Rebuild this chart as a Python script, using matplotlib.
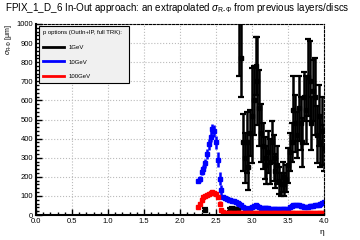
import numpy as np
import matplotlib
matplotlib.use('Agg')
import matplotlib.pyplot as plt
from matplotlib.ticker import MultipleLocator

plt.rcParams['font.family'] = 'Liberation Sans'
plt.rcParams['mathtext.fontset'] = 'custom'
plt.rcParams['mathtext.rm'] = 'Liberation Sans'
plt.rcParams['mathtext.it'] = 'Liberation Sans:italic'

# 1 GeV: eta, sigma, error
eta_1gev = [2.35, 2.70, 2.725, 2.75, 2.775, 2.80,
            2.825, 2.850, 2.875, 2.900, 2.925, 2.950, 2.975, 3.000,
            3.025, 3.050, 3.075, 3.100, 3.125, 3.150, 3.175, 3.200,
            3.225, 3.250, 3.275, 3.300, 3.325, 3.350, 3.375, 3.400,
            3.425, 3.450, 3.475, 3.500, 3.525, 3.550, 3.575, 3.600,
            3.625, 3.650, 3.675, 3.700, 3.725, 3.750, 3.775, 3.800,
            3.825, 3.850, 3.875, 3.900, 3.925, 3.950, 3.975, 4.000]
sig_1gev = [28, 30, 32, 30, 30, 28,
            1060, 820, 380, 300, 380, 250, 430, 520,
            600, 780, 700, 560, 430, 360, 300, 260,
            330, 280, 380, 300, 230, 260, 180, 160,
            200, 160, 190, 260, 330, 380, 550, 480,
            420, 560, 480, 380, 620, 550, 720, 700,
            480, 650, 620, 420, 520, 380, 440, 350]
err_1gev = [8, 8, 8, 8, 8, 8,
            330, 200, 150, 130, 160, 120, 120, 250,
            180, 150, 230, 200, 150, 120, 110, 100,
            110, 120, 110, 120, 90, 100, 70, 60,
            80, 60, 70, 90, 100, 100, 180, 150,
            120, 170, 140, 130, 130, 180, 200, 210,
            140, 160, 200, 150, 160, 130, 180, 120]

# 10 GeV and 100 GeV, bins of 0.025 in eta starting at 2.25
sig_10gev = [180, 190, 225, 240, 270, 320, 370, 410, 450, 440,
             380, 290, 190, 130, 95, 88, 82, 80, 78, 76,
             75, 70, 65, 58, 50, 42, 36, 32, 33, 38,
             42, 48, 50, 48, 44, 38, 35, 36, 38, 35,
             32, 30, 30, 30, 30, 30, 30, 30, 30, 31,
             33, 40, 45, 50, 52, 52, 50, 48, 45, 43,
             42, 44, 45, 47, 48, 50, 52, 55, 58, 62, 66]
err_10gev = [10, 15, 18, 22, 25, 28, 30, 30, 28, 30,
             35, 40, 35, 25, 12, 8, 6, 6, 6, 6,
             5, 5, 5, 5, 5, 5, 4, 4, 4, 4,
             4, 4, 4, 4, 4, 4, 4, 4, 4, 4,
             4, 4, 4, 4, 4, 4, 4, 4, 4, 4,
             4, 4, 4, 4, 4, 4, 4, 4, 4, 4,
             4, 4, 4, 4, 4, 4, 4, 4, 4, 4, 4]
sig_100gev = [40, 60, 80, 92, 100, 105, 110, 115, 118, 116,
              110, 95, 60, 28, 16, 13, 12, 11, 11, 10,
              10, 10, 10, 9, 9, 9, 9, 9, 9, 9,
              9, 9, 9, 9, 9, 9, 9, 9, 9, 9,
              9, 9, 9, 9, 9, 9, 9, 9, 9, 9,
              9, 9, 9, 9, 9, 9, 9, 9, 9, 9,
              9, 9, 9, 9, 9, 9, 9, 9, 9, 9, 9]
err_100gev = [8, 10, 10, 8, 6, 6, 6, 6, 6, 6,
              8, 12, 15, 10, 4, 2, 2, 2, 2, 2,
              2, 2, 2, 2, 2, 2, 2, 2, 2, 2,
              2, 2, 2, 2, 2, 2, 2, 2, 2, 2,
              2, 2, 2, 2, 2, 2, 2, 2, 2, 2,
              2, 2, 2, 2, 2, 2, 2, 2, 2, 2,
              2, 2, 2, 2, 2, 2, 2, 2, 2, 2, 2]
eta_start = 2.25
eta_step = 0.025

labels = ['1GeV', '10GeV', '100GeV']
colors = ['black', '#0000ff', '#ff0000']

eta_10gev = eta_start + eta_step * np.arange(len(sig_10gev))
eta_100gev = eta_start + eta_step * np.arange(len(sig_100gev))

fig = plt.figure(figsize=(3.6, 2.4), dpi=100)
ax = fig.add_axes([0.1, 0.104, 0.8, 0.796])

ax.errorbar(eta_1gev, sig_1gev, yerr=err_1gev, fmt='s', color=colors[0],
            ms=2.8, elinewidth=1.8, capsize=2, capthick=1.6, label=labels[0])
ax.errorbar(eta_10gev, sig_10gev, yerr=err_10gev, fmt='s', color=colors[1],
            ms=3.4, elinewidth=1.8, capsize=0, label=labels[1])
ax.errorbar(eta_100gev, sig_100gev, yerr=err_100gev, fmt='s', color=colors[2],
            ms=3.4, elinewidth=1.8, capsize=0, label=labels[2])

ax.set_xlim(0, 4)
ax.set_ylim(0, 1000)
ax.xaxis.set_major_locator(MultipleLocator(0.5))
ax.xaxis.set_minor_locator(MultipleLocator(0.1))
ax.yaxis.set_major_locator(MultipleLocator(100))
ax.yaxis.set_minor_locator(MultipleLocator(20))
ax.tick_params(which='both', direction='in', labelsize=5.5, width=1, top=False, right=False)
ax.tick_params(which='major', length=4.5, pad=2)
ax.tick_params(which='minor', length=2.2)
ax.grid(True, which='major', linestyle=':', color='#bbbbbb', linewidth=0.8)
ax.set_axisbelow(True)

for side in ['left', 'bottom']:
    ax.spines[side].set_linewidth(1.5)
for side in ['top', 'right']:
    ax.spines[side].set_linestyle((0, (2, 1.5)))
    ax.spines[side].set_linewidth(0.8)

fig.text(5 / 360, 1 - 8 / 240,
         r'FPIX_1_D_6 In-Out approach: an extrapolated $\sigma_{\mathrm{R\text{-}\Phi}}$ from previous layers/discs',
         fontsize=7.1, ha='left', va='center')
ax.set_ylabel(r'$\sigma_{\mathrm{R\text{-}\Phi}}$ [μm]', fontsize=5, loc='top')
ax.yaxis.set_label_coords(-0.075, 1.0)
ax.set_xlabel('η', fontsize=6, loc='right', labelpad=3)

handles = [plt.Line2D([], [], color=c, lw=2) for c in colors]
leg = ax.legend(handles, labels, title='p options (OutIn+IP, full TRK):',
                loc='upper left', bbox_to_anchor=(0.0104, 0.99, 0.3125, 0.0),
                mode='expand', fontsize=4.3, title_fontsize=4.3, alignment='left',
                fancybox=False, framealpha=1, facecolor='#f0f0f0', edgecolor='black',
                handlelength=3.5, labelspacing=1.6, borderaxespad=0, borderpad=0.7)
leg.get_frame().set_linewidth(0.8)

fig.savefig('out.png', dpi=100)
